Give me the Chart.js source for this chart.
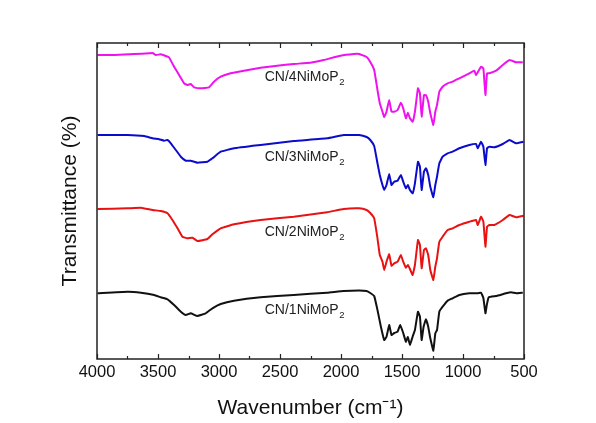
<!DOCTYPE html>
<html>
<head>
<meta charset="utf-8">
<script src="https://cdn.jsdelivr.net/npm/chart.js@4/dist/chart.umd.min.js"></script>
<style>
html,body{margin:0;padding:0;background:#fff;}
canvas{display:block;}
</style>
</head>
<body>
<canvas id="c" width="596" height="423"></canvas>
<script>
// ---- data (wavenumber in cm^-1, transmittance in arbitrary offset units) ----
const seriesNames = ['CN/4NiMoP', 'CN/3NiMoP', 'CN/2NiMoP', 'CN/1NiMoP'];
const seriesColors = ['#EE12EE', '#0B0BCC', '#E81212', '#111111'];

const wn4 = [3995,3858,3695,3572,3545,3518,3477,3436,3409,3368,3327,3286,3259,3232,3204,3150,3082,3041,2986,2905,2796,2659,2523,2387,2251,2142,2005,1896,1851,1790,1760,1728,1701,1682,1660,1646,1627,1605,1586,1564,1536,1509,1490,1468,1452,1435,1413,1394,1369,1353,1339,1320,1304,1285,1268,1243,1227,1213,1194,1167,1126,1085,1030,948,907,893,852,833,816,803,784,729,674,619,564,510];
const t4 = [304,304,305,305.7,306,304,304.7,303,301.5,292.3,284,275.7,274,275,271.7,270.7,271.7,277.3,282.3,285.7,288.3,291.3,293.3,295,296.3,299,303.3,305,305,302,297,289,269,255.7,247.3,241.7,247.3,259,247.3,247.3,249,256.3,250.7,240.7,246.3,240.7,237.3,247.3,270.7,265.7,242.3,264,264,257.3,245.7,234,247.3,254,267.3,272.3,275.7,277.3,280.7,285.7,288.3,284,292.3,290.7,264,285.7,285.7,288.3,294,299,296.7,296.7];

const wn3 = [3995,3749,3613,3545,3490,3450,3422,3395,3354,3313,3272,3232,3177,3095,3054,2986,2877,2659,2387,2114,1978,1851,1790,1760,1728,1701,1682,1660,1646,1627,1605,1586,1564,1536,1509,1490,1468,1452,1435,1413,1394,1369,1353,1339,1320,1304,1285,1268,1243,1227,1213,1194,1167,1126,1085,1030,948,893,879,852,833,816,803,784,743,674,619,564,504];
const t3 = [224,224,223,220.7,219.7,218.3,219,215.7,209,202.3,198.3,198.3,196.3,197.3,200.7,207.3,210.7,214,218,220.7,224,224,222,219,213,195.7,184,174,169,174,185,174,177.3,178.3,184,177.3,170.7,174,169,165.7,175.7,197.3,192.3,169,187.3,190.7,184,172.3,161.7,174,182.3,195.7,202.3,205.7,207.3,210.7,214,215,210.7,217.3,212.3,194,210.7,212.3,211.7,215,219,215.7,217.3];

const wn2 = [3995,3749,3640,3545,3477,3422,3382,3340,3300,3259,3218,3177,3095,3054,2986,2877,2659,2387,2114,1978,1851,1790,1760,1728,1701,1682,1660,1646,1627,1605,1586,1564,1536,1509,1490,1468,1452,1435,1413,1394,1369,1353,1339,1320,1304,1285,1268,1243,1227,1213,1194,1167,1126,1085,1030,948,893,879,852,833,816,803,784,743,674,619,564,504];
const t2 = [150,150.7,151.3,149,148,145.7,139,130.7,122.3,120.7,121.3,118,120,124.7,130.7,134.7,139,142.3,146.7,150,150.7,149,146,140.7,120.7,104,97.3,89,97.3,104.7,93.3,95.7,97.3,104,97.3,91.3,94,90,84,94,119,114,90.7,109,110.7,104,89,79,92.3,100.7,117.3,122.3,129,130.7,134,137.3,139,134,142.3,137.3,112.3,132.3,134,134,139,144,141.7,143.3];

const wn1 = [3995,3749,3640,3531,3477,3422,3368,3313,3272,3232,3177,3109,3054,2986,2877,2659,2387,2114,1978,1851,1790,1760,1728,1701,1673,1646,1627,1605,1586,1564,1536,1515,1490,1468,1452,1435,1413,1394,1369,1353,1339,1323,1304,1285,1268,1243,1227,1213,1194,1167,1126,1085,1030,948,879,852,833,816,805,789,729,647,606,564,510];
const t1 = [65.7,67.3,66.3,64,61.7,59.7,54,47.3,44,45.7,43,45.7,50.7,55,58.3,61.7,64,66.3,68,68.5,68,66,63,49,32.3,19,22.3,34,24,26,27.3,34,26,17.3,22,14,22.3,29,47.3,42.3,19,32.3,39.7,32.3,20.7,8.3,25.7,29,47.3,52.3,58.3,60.7,64,65.7,65.7,66.3,61,45.7,54,61.7,63,65.7,66.7,65.7,66.3];

const labelAnchorX = [2625, 2625, 2625, 2625];
const labelAnchorY = [282, 202, 126.5, 49];

const xTickValues = [4000,3500,3000,2500,2000,1500,1000,500];
const xMinorValues = [3750,3250,2750,2250,1750,1250,750];

// ---- build chart ----
const FONT = "'Liberation Sans', Arial, sans-serif";
const wns = [wn4, wn3, wn2, wn1];
const ts = [t4, t3, t2, t1];

const datasets = seriesNames.map((n, i) => ({
  label: n + '2',
  data: wns[i].map((w, j) => ({x: w, y: ts[i][j]})),
  borderColor: seriesColors[i],
  backgroundColor: seriesColors[i],
  borderWidth: 2,
  pointRadius: 0,
  tension: 0.1,
  fill: false
}));

const framePlugin = {
  id: 'frame',
  afterDatasetsDraw(chart) {
    const {ctx, chartArea: a, scales: {x, y}} = chart;
    ctx.save();
    ctx.strokeStyle = '#222';
    ctx.lineWidth = 1.5;
    ctx.strokeRect(a.left, a.top, a.right - a.left, a.bottom - a.top);
    ctx.lineWidth = 1.2;
    const drawTick = (v, len) => {
      const px = Math.round(x.getPixelForValue(v)) + 0.5;
      ctx.beginPath();
      ctx.moveTo(px, a.bottom); ctx.lineTo(px, a.bottom - len);
      ctx.moveTo(px, a.top); ctx.lineTo(px, a.top + len);
      ctx.stroke();
    };
    xTickValues.forEach(v => drawTick(v, 5));
    xMinorValues.forEach(v => drawTick(v, 3));
    // series labels with subscript
    ctx.fillStyle = '#222';
    ctx.textBaseline = 'middle';
    seriesNames.forEach((n, i) => {
      const px = x.getPixelForValue(labelAnchorX[i]);
      const py = y.getPixelForValue(labelAnchorY[i]);
      ctx.font = '14px ' + FONT;
      ctx.fillText(n, px, py);
      const w = ctx.measureText(n).width;
      ctx.font = '9.5px ' + FONT;
      ctx.fillText('2', px + w + 0.5, py + 5);
    });
    ctx.restore();
  }
};

new Chart(document.getElementById('c'), {
  type: 'line',
  data: {datasets},
  options: {
    responsive: false,
    animation: false,
    layout: {padding: {left: 54, top: 43, right: 72, bottom: 0}},
    plugins: {legend: {display: false}, tooltip: {enabled: false}},
    scales: {
      x: {
        type: 'linear',
        reverse: true,
        min: 500,
        max: 4000,
        grid: {display: false, drawTicks: false},
        border: {display: false},
        afterBuildTicks(s) { s.ticks = xTickValues.map(v => ({value: v})); },
        ticks: {
          font: {size: 16.5, family: FONT},
          color: '#111',
          padding: 4,
          maxRotation: 0,
          autoSkip: false,
          callback: v => String(v)
        },
        title: {
          display: true,
          text: 'Wavenumber (cm\u207B\u00B9)',
          font: {size: 21, family: FONT},
          color: '#111',
          padding: {top: 0, bottom: 2}
        },
        afterFit(s) { s.height = 64; }
      },
      y: {
        type: 'linear',
        min: 0,
        max: 316,
        grid: {display: false, drawTicks: false},
        border: {display: false},
        ticks: {display: false},
        title: {
          display: true,
          text: 'Transmittance (%)',
          font: {size: 21, family: FONT},
          color: '#111',
          padding: {top: 4, bottom: 0}
        },
        afterFit(s) { s.width = 43; }
      }
    }
  },
  plugins: [framePlugin]
});
</script>
</body>
</html>
